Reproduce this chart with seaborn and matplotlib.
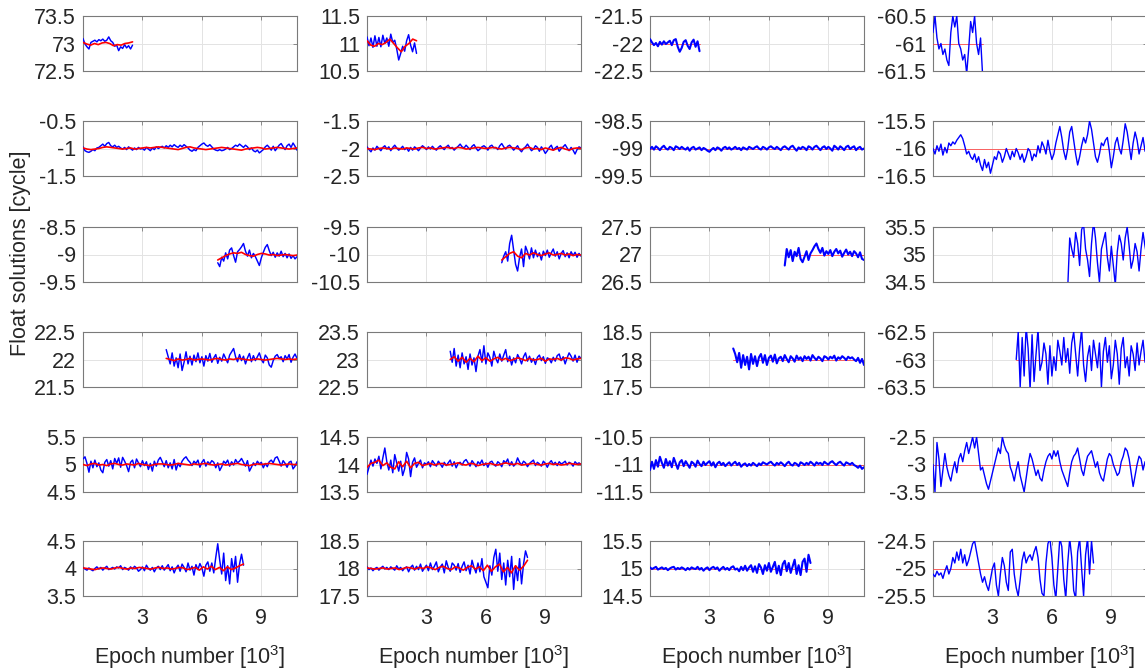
import numpy as np
import matplotlib
matplotlib.use("Agg")
import matplotlib.pyplot as plt
import seaborn as sns

# ---------------------------------------------------------------------------
# Epoch span (in 10^3 epochs) covered by each row of panels
row_start = [0.0, 0.0, 6.8, 4.2, 0.0, 0.0]
row_end = [2.5, 10.8, 10.8, 10.8, 10.8, 8.1]

# Reference (true) ambiguity per panel, one list per column, rows top to bottom
ref_c1 = [73, -1, -9, 22, 5, 4]
ref_c2 = [11, -2, -10, 23, 14, 18]
ref_c3 = [-22, -99, 27, 18, -11, 15]
ref_c4 = [-61, -16, 35, -63, -3, -25]

# Float solutions, stored as offsets from the reference in 0.01 cycle
# ---- column 1 ----
float_r1c1 = [9, -1, -6, -10, 2, 4, 6, 3, 7, 5, 8, 4, 6, 12, 5, 2, -5, -3, -13, -6, -9, -2, -8, -4, -10, -3]
float_r2c1 = [3, -4, -6, -7, -5, -2, -4, 1, 2, 5, 8, 4, 9, 11, 5, 3, 6, 2, 4, 1,
              -1, 2, -2, 3, 0, -3, 1, -2, 2, -1, 0, -3, 2, -1, -4, 1, -2, 3, 0, 2,
              4, 1, 5, 2, 6, 3, 7, 4, 2, 6, 3, 7, 4, 1, -3, -5, -2, -4, 2, 5,
              8, 10, 6, 4, 7, 3, -1, -3, -4, -2, -4, -3, -1, 2, -2, 0, 3, 6, 4, 8,
              5, 2, 6, 3, -2, 1, -4, -6, -3, -8, -5, -2, 3, 6, 2, -3, 4, -4, 1, 6,
              9, 3, -2, 5, 8, 2, 10, 4, -3]
float_r3c1 = [-15, -22, -5, -12, 3, -8, 8, 12, -2, -14, 5, 9, 14, 20, 6, -3, 8, -6, 2, -4,
              -12, -20, -6, 4, 13, 18, 7, -2, 4, -5, 3, -3, 6, -4, 2, -6, 1, -7, -2, -8, -4]
float_r4c1 = [18, 5, -8, 12, -12, 3, -15, 10, -20, -5, 14, -8, 6, -10, 8, -4, 12, -6, 5, -12,
              7, -3, 11, -5, 3, 9, -7, 4, -3, 10, 2, -6, 8, 14, 20, 5, -4, 9, -2, 6,
              -8, 3, 11, -4, 7, -2, 5, 12, 0, -6, 8, 3, -10, -14, -2, 6, 9, 2, 5, -4,
              7, 1, 9, -5, 4, 10, 2]
float_r5c1 = [10, 14, 2, -14, 6, -6, 8, -4, 3, -10, -15, 4, 9, -3, 7, -8, 11, 2, 12, -5,
              13, 6, -2, -13, 4, 8, -6, 10, 3, -4, 7, -2, 5, -9, 2, -12, 6, -3, 8, 13,
              5, -4, 7, -6, 3, -8, 9, -10, 2, -4, 6, 11, 14, 8, 4, -2, 6, 2, 8, -5,
              4, 9, -3, 5, 1, 7, 4, -6, 3, -11, -4, 6, 2, 8, -3, 5, -1, 9, 3, 6,
              11, 4, -3, 7, -12, -5, 3, -2, 6, 1, 4, -6, 2, -4, 5, 8, 3, 12, 14, 6,
              -3, 7, 2, -5, 4, 6, -8, -3, 5]
float_r6c1 = [2, -1, -3, 1, -2, -4, 0, 3, -1, 2, -3, 1, 4, -2, 0, 2, -1, 3, 1, 5,
              -2, 2, 0, -3, 3, -1, 4, 1, -5, -2, 3, -4, 6, 0, -3, 2, -6, 1, 4, -2,
              5, -3, 2, 7, -4, 3, -8, 1, 6, -5, 8, 2, -6, 10, -3, 4, -12, 7, -2, 9,
              1, -14, 6, 12, -5, 10, -8, 20, 45, 15, -10, 28, -22, 5, -28, 18, -6, 22, -25, 8,
              26, 6]
# ---- column 2 ----
float_r1c2 = [12, -4, 10, -7, 14, -5, 11, -6, 15, 0, 10, -5, 17, 2, 6, -10, -30, -18, -5, -14, 5, 16, -3, -15, 1, -18]
float_r2c2 = [3, -2, -6, 1, -3, 4, 0, -4, 2, 5, -1, 3, -4, 2, 6, 1, -3, 0, 4, -2,
              1, -5, 2, -3, 3, 0, -4, 1, 5, 2, -2, 3, -1, 4, 0, -3, 2, 5, 1, -2,
              3, 6, 0, 2, -3, 1, 4, 8, 3, 1, 6, 2, -2, 4, 7, 1, -4, -1, 3, 5,
              2, -3, 4, 6, 1, 2, -2, 5, 9, 3, -1, 4, 6, 2, -3, 1, 5, -2, -6, 0,
              3, 8, 2, -4, -1, 5, 2, -5, 3, -2, -9, -4, 2, 6, -3, 1, 4, -5, 0, 3,
              7, 1, -4, 2, -3, -10, -2, 3, 1]
float_r3c2 = [-15, -3, 5, -12, 20, 35, 8, -18, -30, -5, 10, -22, 15, 5, -8, 12, -6, 8, -4, 3,
              -10, 6, -2, 8, -5, 3, 10, -3, 5, -8, 2, 7, -4, 3, -6, 5, -2, 4, -5, 2, -3]
float_r4c2 = [15, -5, 20, -12, 8, -15, 12, -8, 5, -18, 10, -10, 3, -22, 6, 18, -5, 25, -8, 12,
              4, -12, 15, 2, -6, 10, -3, 8, 18, -4, 6, -10, 3, -6, 9, 2, -8, 5, 12, -3,
              6, -5, 2, -9, 4, 8, -2, 5, -7, 3, 1, -6, 4, -3, 7, 10, -2, 5, -8, 3,
              12, 6, -3, 8, -5, 6, 2]
float_r5c2 = [-18, -5, 8, -3, 10, 2, 15, -8, 12, 30, 5, -10, 8, -15, 18, 3, -12, 6, -20, -8,
              22, 10, -22, 4, 12, -5, 2, 8, -6, 3, 0, 5, -4, 7, 2, -3, 6, 1, -5, 4,
              -2, 3, 8, -3, 5, -6, 2, 4, -1, 6, 9, 3, -3, 7, 2, -4, 5, 1, 8, -2,
              3, -5, 4, 6, 0, -3, 5, 2, -4, 7, 3, 10, -2, 5, -3, 1, 12, 4, -1, 6,
              3, -4, 2, 5, 8, -2, 4, 1, -3, 6, 2, -5, 3, 7, 0, 4, -2, 5, 1, 3,
              6, -1, 4, 2, -3, 5, 1, 3, 0]
float_r6c2 = [3, -2, 1, -4, 0, 2, -3, 1, 4, -1, 2, -2, 3, 0, -3, 5, -1, 2, -4, 1,
              3, -6, 2, 6, -3, 4, -2, 8, -5, 1, 6, -4, 10, -2, 4, 12, -6, 3, 8, -8,
              14, 2, -5, 10, 6, -3, 9, -7, 4, 12, -4, 6, -10, 15, 2, -8, 10, -6, 18, -15,
              -25, -35, 5, -12, 20, 35, -5, 28, -20, 10, -30, 15, -15, 22, -38, 5, -22, 18, -28, 8,
              32, 20]
# ---- column 3 ----
float_r1c3 = [8, 2, -3, 1, -5, 3, -2, 4, -1, 2, 5, -3, 6, 8, -6, -15, -8, 3, 6, -4, -10, 2, 7, -6, 4, -14]
float_r2c3 = [-1, 3, -2, 4, 1, -3, 2, 5, 0, -2, 3, 1, -3, 4, 2, -1, 3, 0, -2, 2,
              -4, 1, 3, -2, 0, 2, -3, 1, -1, -4, -6, -2, 1, -3, 2, 0, -4, 1, 3, -1,
              2, -2, 0, 3, -1, 1, -3, 2, 0, -2, 3, 1, -1, 2, 4, 0, -2, 3, 1, -2,
              2, 4, 1, -1, 3, 0, -3, 2, 4, 1, -2, 3, 5, 0, -4, 2, -1, 3, 1, -3,
              4, 2, -2, 3, 5, 1, -3, 2, 4, -1, 3, 0, -4, 5, 2, -2, 4, 1, -3, 3,
              5, -1, 2, 4, -3, 1, 3, -2, 0]
float_r3c3 = [-20, 10, -5, 8, -12, 5, -3, 12, -8, -14, -4, 6, -10, 2, 8, 15, 20, 10, 3, 12,
              -2, 6, 1, 8, -3, 5, 10, 2, 7, -4, 3, 9, 0, 5, -3, 6, 2, -5, 4, -8, -10]
float_r4c3 = [20, 10, -5, 12, -15, 8, -10, 5, -18, 10, -8, 6, -12, 4, 10, -6, 8, -10, 3, 7,
              -4, 9, -7, 2, 5, -3, 8, 1, -5, 6, 2, -4, 7, 0, 4, -3, 6, 1, 5, -2,
              8, 3, -1, 5, 2, -3, 6, 4, 0, 5, 2, 7, -2, 4, 1, 6, 3, -1, 5, 2,
              4, 0, -3, 3, -6, 1, -10]
float_r5c3 = [-10, 5, -8, 8, -4, 14, 3, -6, 10, -2, 6, -5, 12, 2, -8, 4, 8, -3, 6, 0,
              -6, 5, 2, -4, 7, 1, -3, 5, -1, 3, 6, -2, 4, -5, 2, 5, -1, 3, -3, 1,
              4, -2, 2, 5, -1, 3, -4, 0, 2, -3, 1, -2, 3, 0, -3, 2, -1, 4, 2, 0,
              3, 5, 1, -2, 3, 0, 4, 1, -3, 2, 5, 0, -2, 3, 1, -3, 4, 2, -1, 3,
              0, 5, 2, -2, 4, 1, 3, -1, 5, 2, 0, 4, 6, 2, -1, 3, 5, 1, -2, 4,
              2, 0, 3, -1, -3, -6, -2, -8, -5]
float_r6c3 = [2, -1, 1, 3, -2, 0, 2, -1, 1, -3, 0, 2, 3, -2, 1, -1, 2, 0, -3, 1,
              -2, 2, 0, -1, 3, -2, 1, -4, 0, 2, -3, 1, 3, -1, 2, -4, 0, 3, -2, 1,
              -3, 2, 4, -2, 0, -5, 3, -3, 5, -4, 2, 6, -6, 4, -8, 8, 2, -10, 6, -4,
              10, -6, 3, 12, -9, 5, -12, 8, 14, -5, 10, -8, 4, 16, -10, 6, -12, 12, 18, -6,
              25, 10]
# ---- column 4 ----
float_r1c4 = [20, 50, 10, -10, 0, -20, -10, -30, -40, 20, 50, 30, 50, 0, -10, -30, -20, -55, -10, 40, 20, 50, 0, -20, 10, -55]
float_r2c4 = [0, -10, 5, -5, 8, -12, 2, -8, 10, 5, 12, 8, 15, 20, 25, 18, 5, -10, -5, -15,
              -20, -10, -25, -15, -30, -40, -20, -35, -25, -45, -30, -15, -20, -5, -10, -25, -15, 0, -10, -20,
              -5, -15, 0, -8, -20, -10, -25, -15, 0, -5, -22, -10, -15, 5, -8, 12, 3, -10, 15, -5,
              -20, -10, 10, 25, 40, 20, -5, -20, 0, 30, 40, 15, -10, -30, -15, 5, 20, 10, 25, 50,
              35, 10, -15, -25, -10, 10, 5, 15, 20, -5, -35, -15, 10, 20, 0, -10, 15, 45, 30, 5,
              -20, 10, 30, 15, -10, 5, 20, -5, 10]
float_r3c4 = [-60, 30, 10, -5, 40, 20, -20, 45, 55, 10, -10, -40, 20, 60, 30, -15, -50, 10, 25, 40,
              -5, -30, 15, -20, -55, 5, 35, 20, -10, 30, 50, 15, -25, -10, 20, 5, -30, 10, 40, 15, -5]
float_r4c4 = [0, 50, -50, 40, -30, 60, 20, -55, 45, -40, 10, 55, -20, -5, 30, 10, -45, 25, -30, 5,
              -20, 35, 15, -10, 40, -5, 20, -25, 30, 50, 10, -30, 20, 55, -10, -40, 5, 25, -20, 35,
              10, -15, 30, -50, 15, 40, -5, 25, -35, -10, 35, 10, -45, 20, 40, -15, 5, -30, 25, 10,
              -20, 30, -10, 15, 35, -5, 20]
float_r5c4 = [0, -50, 40, 10, -40, -10, 20, -5, -20, -30, -10, 5, -15, 10, 20, 5, 25, 40, 20, 35,
              50, 30, 50, 20, -10, -5, -20, -35, -45, -30, -15, 0, 15, 30, 20, 50, 35, 25, 20, -5,
              -15, -30, -10, 5, -20, -35, -50, -25, 0, 20, 10, -5, -20, -10, -25, -30, -10, 5, 15, 20,
              10, 25, 15, 25, 5, -10, -20, -30, -40, -15, 5, 15, 20, 30, 10, -10, -20, 0, 15, 20,
              25, 10, -5, 5, -15, -25, -30, -10, 10, 20, 15, 0, -10, -20, -15, 5, 15, 30, 25, 10,
              -15, -40, -20, 0, 15, 10, -10, 5, 0]
float_r6c4 = [-10, -15, -5, -12, -8, -18, -5, 5, -10, 0, 20, 10, 30, 15, 35, 10, 25, 5, 15, 30,
              45, 50, 30, 10, -10, -25, -15, -30, -40, -20, 0, 10, -30, -50, -10, 20, 5, -25, -40, 30,
              35, -10, -35, -50, -20, 15, 30, 10, 20, 25, 15, 30, 40, 20, -20, -45, -50, 10, 45, 55,
              20, -30, -55, 0, 55, 40, -20, -55, 10, 55, 20, -40, -55, 30, 55, 0, -50, 25, 55, -10,
              50, 10]

# Smoothed (fixed-solution filter) track, offsets in 0.01 cycle, columns 1 and 2
fixed_r1c1 = [2, -1, -3, 0, -2, 1, 2, 0, -4, -2, -3, 0, 1, 3]
fixed_r2c1 = [1, -1, -2, -1, 0, 2, 3, 2, 1, 0, -1, 0, 1, -1, 0, 1, 2, 1, 2, 3,
              2, 1, 0, -1, -2, 0, 2, 3, 1, 0, -1, -2, -1, 0, 1, 2, 1, 0, -1, -2,
              -3, -1, 0, 1, 2, 1, -1, 0, 1, 2, 1, 0, -1, 0, 1]
fixed_r3c1 = [-10, -6, -2, 1, 3, 2, 4, 0, -2, -3, 0, 2, 1, -1, 0, -2, -1, 0, -1, -2, -1]
fixed_r4c1 = [2, 0, -2, 1, -1, 0, 2, -1, 0, 1, 0, -1, 1, 2, 0, -1, 1, 0, 2, 1,
              0, -1, 0, 1, 0, -1, 0, 1, 2, 1, 0, 1, 0, 1]
fixed_r5c1 = [0, -2, 1, 2, -1, 0, -2, 1, 2, 0, -1, 1, 0, -1, 2, 0, -1, -2, 0, 1,
              1, 0, -1, 0, 2, 1, 0, -1, 1, 0, 1, 2, 0, -1, 0, 1, -1, 0, 1, 2,
              0, -1, -2, 0, 1, 0, 1, 2, 1, 0, -1, 0, 1, 0, 0]
fixed_r6c1 = [1, 0, -1, -2, 0, 1, 0, -1, 1, 2, 0, -1, 1, 0, 2, 1, 0, -1, 1, 2,
              0, 1, -1, 0, 2, 1, -2, 0, 2, -3, 3, -1, 4, -2, 2, -4, 3, -2, 1, 5, 8]
fixed_r1c2 = [5, -3, -5, 0, -2, 2, 8, 0, -8, -15, -5, 0, 8, 5]
fixed_r2c2 = [0, -1, -2, 0, 1, 0, -1, 1, 0, -1, 1, 0, -1, 1, 2, 0, 1, -1, 0, 1,
              2, 1, 0, 2, 1, -1, 0, 1, 2, 1, 0, 1, 2, 0, -1, 1, 2, 1, 0, -2,
              1, 2, -1, 0, -2, 1, -1, -3, 0, 2, -1, -3, 0, 1, 0]
fixed_r3c2 = [-10, -4, 2, 5, -3, -6, 2, -1, 3, 0, -2, 1, 3, -1, 0, 2, -1, 1, -2, 0, -1]
fixed_r4c2 = [0, 5, -3, 4, -5, 2, -4, 6, -2, 3, -3, 1, 4, -1, 2, -2, 0, 3, 1, -2,
              2, -1, 0, 2, -3, 1, 0, 2, -1, 3, 2, -1, 1, 2]
fixed_r5c2 = [-5, 2, 4, 8, -2, 3, -5, -8, 5, -4, 6, -6, 2, 4, -2, 0, 2, -1, 1, 2,
              -1, 0, 1, 3, 0, -1, 2, 1, -2, 0, 1, 2, 0, -1, 1, 3, 1, 0, 2, -1,
              0, 1, 2, 0, -1, 1, 2, 0, 1, -1, 0, 2, 1, 0, 1]
fixed_r6c2 = [1, 0, -1, 0, 1, -1, 0, 1, -2, 0, 2, 1, -1, 2, 0, 3, 1, -2, 2, 4,
              0, -2, 3, 1, -3, 2, 5, -1, 3, -4, 6, -5, 3, 8, -6, 2, -8, 5, -3, 4, 15]

tick_epochs = [3, 6, 9]
x_label = r"Epoch number [10$^{\mathregular{3}}$]"
y_label = "Float solutions [cycle]"

# ---------------------------------------------------------------------------
refs = [ref_c1, ref_c2, ref_c3, ref_c4]
floats = [
    [float_r1c1, float_r2c1, float_r3c1, float_r4c1, float_r5c1, float_r6c1],
    [float_r1c2, float_r2c2, float_r3c2, float_r4c2, float_r5c2, float_r6c2],
    [float_r1c3, float_r2c3, float_r3c3, float_r4c3, float_r5c3, float_r6c3],
    [float_r1c4, float_r2c4, float_r3c4, float_r4c4, float_r5c4, float_r6c4],
]
fixed = [
    [fixed_r1c1, fixed_r2c1, fixed_r3c1, fixed_r4c1, fixed_r5c1, fixed_r6c1],
    [fixed_r1c2, fixed_r2c2, fixed_r3c2, fixed_r4c2, fixed_r5c2, fixed_r6c2],
    None,
    None,
]

sns.set_theme(style="white")
plt.rcParams["font.family"] = ["Liberation Sans", "DejaVu Sans"]
plt.rcParams["mathtext.fontset"] = "custom"
plt.rcParams["mathtext.rm"] = "Liberation Sans"
plt.rcParams["mathtext.it"] = "Liberation Sans:italic"
plt.rcParams["mathtext.bf"] = "Liberation Sans:bold"

W, H = 1145, 671
fig = plt.figure(figsize=(W / 100, H / 100), dpi=100)

col_left = [83, 367, 650, 933]
row_top = [16, 121, 227, 332, 437, 541]
ax_w, ax_h = 214, 55
FS = 15.5
TXT = "#262626"
EDGE = "#7a7a7a"

for c in range(4):
    for r in range(6):
        left = col_left[c] / W
        bottom = 1 - (row_top[r] + ax_h) / H
        ax = fig.add_axes([left, bottom, ax_w / W, ax_h / H])
        ref = refs[c][r]
        x0, x1 = row_start[r], row_end[r]

        dev = np.asarray(floats[c][r], dtype=float)
        xf = np.linspace(x0, x1, len(dev))
        yf = ref + dev / 100.0

        if fixed[c] is not None:
            fdev = np.asarray(fixed[c][r], dtype=float)
            xr = np.linspace(x0, x1, len(fdev))
            yr = ref + fdev / 100.0
            sns.lineplot(x=xf, y=yf, ax=ax, color="#0000ff", linewidth=1.05,
                         estimator=None, errorbar=None, sort=False, zorder=3)
            sns.lineplot(x=xr, y=yr, ax=ax, color="#ff0000", linewidth=1.2,
                         estimator=None, errorbar=None, sort=False, zorder=4)
        else:
            sns.lineplot(x=[x0, x1], y=[ref, ref], ax=ax, color="#ff4040",
                         linewidth=0.7, alpha=0.8, estimator=None, errorbar=None,
                         sort=False, zorder=3)
            lw = 1.5 if c == 2 else 1.0
            sns.lineplot(x=xf, y=yf, ax=ax, color="#0000ff", linewidth=lw,
                         estimator=None, errorbar=None, sort=False, zorder=4)

        ax.set_xlim(0, 10.8)
        ax.set_ylim(ref - 0.5, ref + 0.5)
        ax.set_xticks(tick_epochs)
        yt = [ref - 0.5, ref, ref + 0.5]
        ax.set_yticks(yt)
        ax.set_yticklabels([f"{v:g}" for v in yt])
        if r == 5:
            ax.set_xticklabels([str(t) for t in tick_epochs])
            ax.set_xlabel(x_label, fontsize=FS, color=TXT, labelpad=10)
        else:
            ax.set_xticklabels([])
            ax.set_xlabel("")
        ax.set_ylabel("")
        ax.grid(True, color="#e3e3e3", linewidth=0.7)
        ax.set_axisbelow(True)
        for s in ax.spines.values():
            s.set_visible(True)
            s.set_color(EDGE)
            s.set_linewidth(0.8)
        ax.tick_params(axis="both", which="both", direction="in", length=3,
                       width=0.6, color=EDGE, top=True, right=True,
                       labelsize=FS, labelcolor=TXT, pad=5)
        ax.tick_params(axis="x", pad=9)
        ax.set_facecolor("white")

fig.text(21 / W, 1 - 253 / H, y_label, rotation=90, ha="center", va="center",
         fontsize=FS, color=TXT)

fig.savefig("out.png", dpi=100, facecolor="white")
